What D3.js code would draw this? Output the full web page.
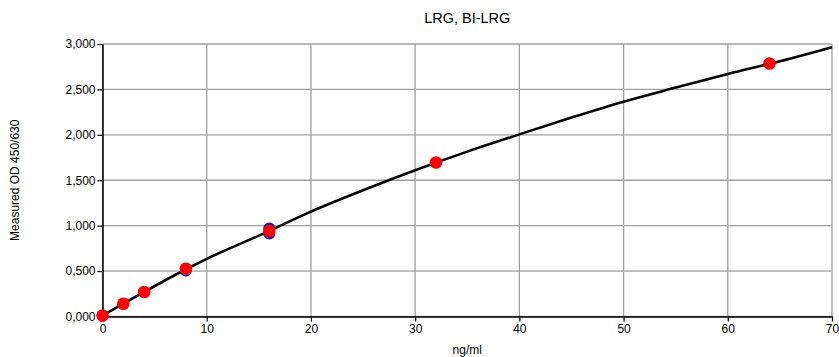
<!DOCTYPE html>
<html>
<head>
<meta charset="utf-8">
<script src="https://cdn.jsdelivr.net/npm/d3@7"></script>
<style>
  body { margin: 0; background: #fff; }
  svg { display: block; font-family: "Liberation Sans", Arial, sans-serif; }
</style>
</head>
<body>
<svg id="chart"></svg>
<script>
// Data
const title = "LRG, BI-LRG";
const xLabel = "ng/ml";
const yLabel = "Measured OD 450/630";

const xTicks = [0, 10, 20, 30, 40, 50, 60, 70];
const yTicks = [0, 0.5, 1, 1.5, 2, 2.5, 3];

// fitted curve
const curveX = [0, 2, 4, 8, 10, 15, 20, 25, 30, 35, 40, 45, 50, 55, 60, 65, 70];
const curveY = [0.01, 0.14, 0.27, 0.52, 0.635, 0.89, 1.155, 1.39, 1.61, 1.815, 2.005, 2.19, 2.365, 2.52, 2.67, 2.81, 2.965];

// replicate 2 (blue, mostly hidden)
const blueX = [8, 16, 16];
const blueY = [0.505, 0.97, 0.915];

// replicate 1 (red)
const redX = [0, 2, 4, 8, 16, 32, 64];
const redY = [0.01, 0.14, 0.27, 0.525, 0.94, 1.695, 2.785];

const width = 839, height = 357;
const margin = { top: 44, right: 7, bottom: 40.5, left: 102.5 };

const svg = d3.select("svg#chart").attr("width", width).attr("height", height);

const x = d3.scaleLinear().domain([0, 70]).range([margin.left, width - margin.right]);
const y = d3.scaleLinear().domain([0, 3]).range([height - margin.bottom, margin.top]);

const commaLocale = d3.formatLocale({ decimal: ",", thousands: ".", grouping: [3], currency: ["", ""] });
const fmt = commaLocale.format(".3f");

// grid
svg.append("g")
  .selectAll("line")
  .data(xTicks)
  .join("line")
  .attr("x1", (d) => x(d)).attr("x2", (d) => x(d))
  .attr("y1", y(3)).attr("y2", y(0))
  .style("stroke", "#a0a0a0")
  .style("stroke-width", 1.3);

svg.append("g")
  .selectAll("line")
  .data(yTicks)
  .join("line")
  .attr("x1", x(0)).attr("x2", x(70))
  .attr("y1", (d) => y(d)).attr("y2", (d) => y(d))
  .style("stroke", "#a0a0a0")
  .style("stroke-width", 1.3);

// axes
const xAxis = svg.append("g")
  .attr("transform", `translate(0,${y(0)})`)
  .call(d3.axisBottom(x).tickValues(xTicks).tickSize(5).tickSizeOuter(0).tickPadding(3));

const yAxis = svg.append("g")
  .attr("transform", `translate(${x(0)},0)`)
  .call(d3.axisLeft(y).tickValues(yTicks).tickFormat(fmt).tickSize(5).tickSizeOuter(0).tickPadding(2));

[xAxis, yAxis].forEach((g) => {
  g.select(".domain").style("stroke", "#000").style("stroke-width", 1.5);
  g.selectAll(".tick line").style("stroke", "#000").style("stroke-width", 1.2);
  g.selectAll(".tick text")
    .style("font-family", "'Liberation Sans', Arial, sans-serif")
    .style("font-size", "12px")
    .style("fill", "#000");
});

// curve
const curvePts = curveX.map((d, i) => [x(d), y(curveY[i])]);
svg.append("path")
  .attr("d", d3.line().curve(d3.curveMonotoneX)(curvePts))
  .style("fill", "none")
  .style("stroke", "#000")
  .style("stroke-width", 2.6);

// points
svg.append("g")
  .selectAll("circle")
  .data(blueX.map((d, i) => [d, blueY[i]]))
  .join("circle")
  .attr("cx", (d) => x(d[0]))
  .attr("cy", (d) => y(d[1]))
  .attr("r", 6)
  .style("fill", "#1a1a9a");

svg.append("g")
  .selectAll("circle")
  .data(redX.map((d, i) => [d, redY[i]]))
  .join("circle")
  .attr("cx", (d) => x(d[0]))
  .attr("cy", (d) => y(d[1]))
  .attr("r", 6.3)
  .style("fill", "#ff0000");

// labels
svg.append("text")
  .attr("x", (x(0) + x(70)) / 2)
  .attr("y", 23)
  .attr("text-anchor", "middle")
  .style("font-size", "14.5px")
  .text(title);

svg.append("text")
  .attr("x", (x(0) + x(70)) / 2)
  .attr("y", 354)
  .attr("text-anchor", "middle")
  .style("font-size", "12px")
  .text(xLabel);

svg.append("text")
  .attr("transform", `translate(19,${(y(0) + y(3)) / 2}) rotate(-90)`)
  .attr("text-anchor", "middle")
  .style("font-size", "12px")
  .text(yLabel);
</script>
</body>
</html>
